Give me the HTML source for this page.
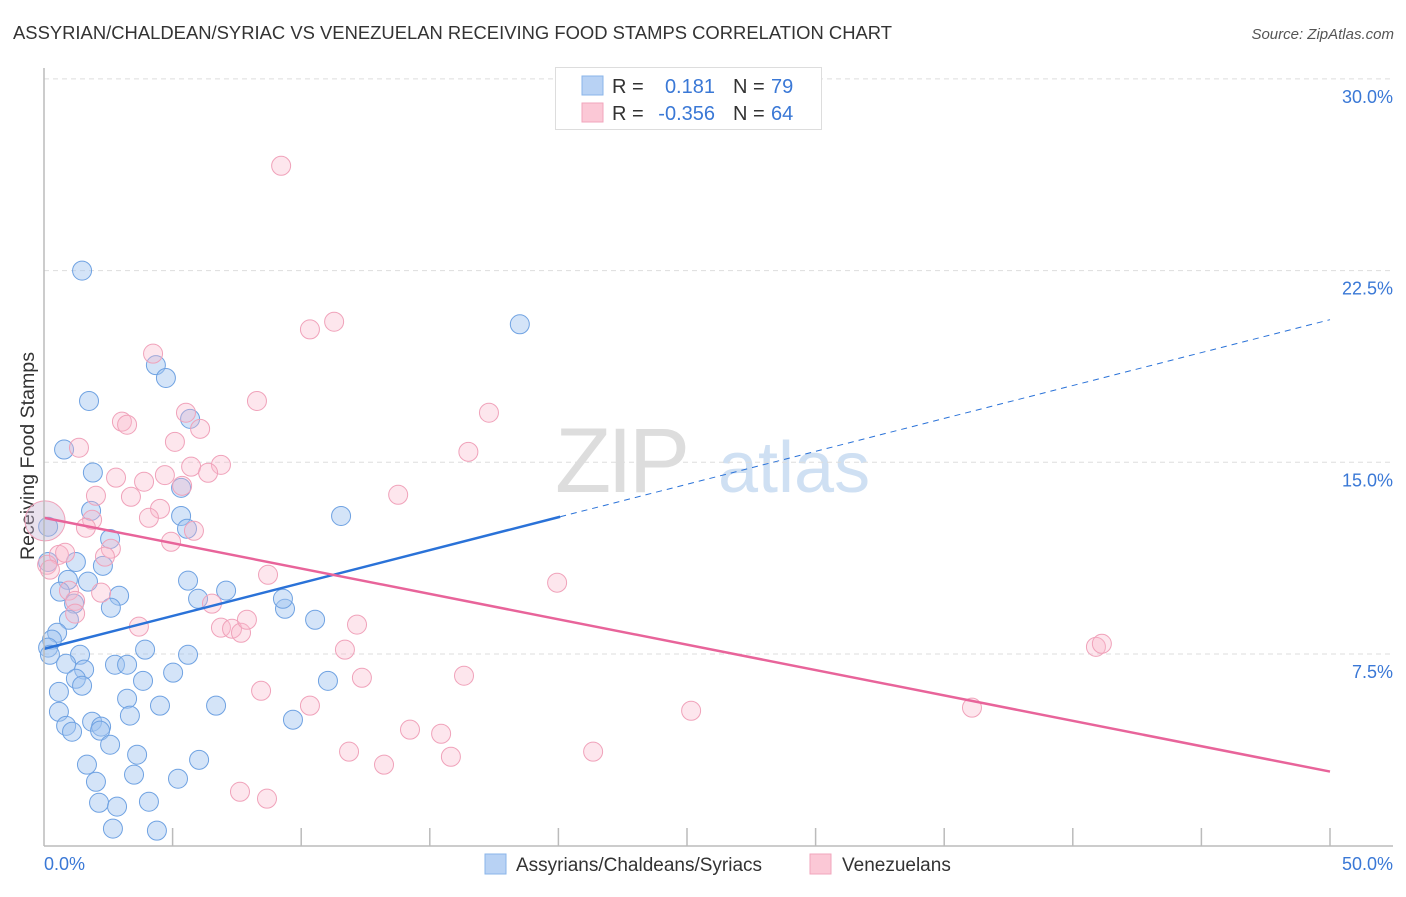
<!DOCTYPE html>
<html><head><meta charset="utf-8"><style>
body{margin:0;background:#fff;font-family:"Liberation Sans",sans-serif;}
svg text{font-family:"Liberation Sans",sans-serif;}
</style></head><body>
<svg id="chart" width="1406" height="892" viewBox="0 0 1406 892">
<text x="13" y="39" font-size="18" fill="#333" textLength="879" lengthAdjust="spacingAndGlyphs">ASSYRIAN/CHALDEAN/SYRIAC VS VENEZUELAN RECEIVING FOOD STAMPS CORRELATION CHART</text>
<text x="1394" y="39" font-size="15" fill="#555" text-anchor="end" font-style="italic">Source: ZipAtlas.com</text>
<text x="0" y="0" font-size="19" fill="#333" text-anchor="middle" textLength="208" lengthAdjust="spacingAndGlyphs" transform="translate(34,456) rotate(-90)">Receiving Food Stamps</text>
<g>
<text x="555" y="492" font-size="92" fill="#ddd" font-family="Liberation Serif" letter-spacing="-4">ZIP</text>
<text x="718" y="492" font-size="72" fill="#cfe0f3">atlas</text>
</g>
<g id="grid"></g><g id="marks"></g><g id="lines"></g>
<line x1="44" y1="68" x2="44" y2="846" stroke="#bbb" stroke-width="1.5"/>
<line x1="44" y1="846" x2="1393" y2="846" stroke="#bbb" stroke-width="1.5"/>
<text x="44" y="870" font-size="18" fill="#3a78d6">0.0%</text>
<text x="1393" y="870" font-size="18" fill="#3a78d6" text-anchor="end">50.0%</text>
<g>
<rect x="555.5" y="67.5" width="266" height="62" fill="#fff" stroke="#ddd"/>
<rect x="582" y="76" width="21" height="19" fill="#b8d2f4" stroke="#8ab4ea"/>
<rect x="582" y="103" width="21" height="19" fill="#fbc8d6" stroke="#f2a6bc"/>
<text x="612" y="93" font-size="20" fill="#333">R =</text>
<text x="715" y="93" font-size="20" fill="#3a78d6" text-anchor="end">0.181</text>
<text x="733" y="93" font-size="20" fill="#333">N =</text>
<text x="771" y="93" font-size="20" fill="#3a78d6">79</text>
<text x="612" y="120" font-size="20" fill="#333">R =</text>
<text x="715" y="120" font-size="20" fill="#3a78d6" text-anchor="end">-0.356</text>
<text x="733" y="120" font-size="20" fill="#333">N =</text>
<text x="771" y="120" font-size="20" fill="#3a78d6">64</text>
</g>
<g>
<rect x="485" y="854" width="21" height="20" fill="#b8d2f4" stroke="#8ab4ea"/>
<text x="516" y="871" font-size="19" fill="#333">Assyrians/Chaldeans/Syriacs</text>
<rect x="810" y="854" width="21" height="20" fill="#fbc8d6" stroke="#f2a6bc"/>
<text x="842" y="871" font-size="19" fill="#333">Venezuelans</text>
</g>
</svg>
<script>
const yTicks=[7.5,15,22.5,30];
const yTickLabels=["7.5%","15.0%","22.5%","30.0%"];
const xTickVals=[5,10,15,20,25,30,35,40,45,50];
const blueX=[1.48,18.5,4.35,4.74,1.75,0.78,5.68,1.9,5.33,5.33,1.83,11.55,5.56,2.57,0.16,1.24,2.29,0.93,5.6,1.71,7.08,0.62,2.92,5.99,1.17,9.37,2.6,9.29,10.54,0.97,0.51,0.31,0.16,0.23,1.4,3.93,5.6,0.86,2.76,3.23,1.56,1.24,5.02,3.85,1.48,0.58,3.23,11.04,4.51,6.69,0.58,3.34,1.87,2.22,0.86,1.09,9.68,2.18,2.57,3.62,1.67,6.03,2.02,5.21,3.5,2.14,4.08,2.84,2.68,4.39,0.16];
const blueY=[22.5,20.4,18.8,18.3,17.4,15.5,16.7,14.6,14.0,12.9,13.1,12.9,12.4,12.0,11.1,11.1,10.95,10.4,10.37,10.33,9.98,9.94,9.78,9.66,9.47,9.27,9.31,9.66,8.84,8.84,8.33,8.06,7.75,7.47,7.47,7.67,7.47,7.12,7.08,7.08,6.89,6.53,6.77,6.45,6.26,6.02,5.75,6.45,5.48,5.48,5.24,5.09,4.85,4.66,4.69,4.46,4.93,4.5,3.95,3.56,3.17,3.36,2.5,2.62,2.78,1.68,1.72,1.53,0.67,0.59,12.48];
const pinkX=[9.22,11.28,10.34,4.24,8.28,17.3,5.52,6.07,3.03,3.23,1.36,5.09,16.5,5.72,6.88,6.38,2.8,4.7,3.89,5.37,2.02,3.38,13.77,4.51,4.08,1.87,1.63,5.83,4.94,2.6,2.37,0.58,0.82,0.12,0.23,19.95,8.71,0.97,2.22,1.21,6.53,3.69,6.88,7.31,7.66,7.89,12.17,1.21,11.7,40.9,41.13,16.33,12.36,8.44,10.34,25.16,36.08,14.23,15.44,11.86,15.82,21.35,13.22,7.62,8.67];
const pinkY=[26.6,20.5,20.2,19.25,17.4,16.94,16.94,16.31,16.59,16.47,15.57,15.8,15.41,14.83,14.9,14.59,14.4,14.5,14.24,14.08,13.69,13.65,13.73,13.18,12.83,12.75,12.44,12.32,11.89,11.62,11.31,11.38,11.46,10.99,10.8,10.29,10.6,9.98,9.9,9.58,9.47,8.57,8.53,8.49,8.33,8.84,8.65,9.08,7.67,7.78,7.9,6.65,6.57,6.06,5.48,5.28,5.4,4.54,4.38,3.68,3.48,3.68,3.17,2.11,1.84];
const bigPinkX=[0.04], bigPinkY=[12.71];
const blueFit=[7.7,20.58], pinkFit=[12.83,2.9], blueSolidEnd=20.07;
const NS="http://www.w3.org/2000/svg";
const sx=v=>44+v*25.72, sy=v=>845.7-v*25.56;
function mk(tag,attrs,parent){const e=document.createElementNS(NS,tag);for(const k in attrs)e.setAttribute(k,attrs[k]);document.getElementById(parent).appendChild(e);return e;}
yTicks.forEach((t,i)=>{
 const l=mk('line',{x1:44,x2:1393,y1:sy(t),y2:sy(t),stroke:'#ddd','stroke-dasharray':'5,4'},'grid');
 
 
 const tx=mk('text',{x:1393,y:sy(t)+24,'font-size':18,fill:'#3a78d6','text-anchor':'end'},'grid');
 tx.textContent=yTickLabels[i];
 
 
});
xTickVals.forEach(t=>{
 const l=mk('line',{x1:sx(t),x2:sx(t),y1:828,y2:846,stroke:'#bbb','stroke-width':1.5},'grid');
 
 
});
function pts(xs,ys,fill,stroke,name,r){xs.forEach((x,i)=>{
 const c=mk('circle',{cx:sx(x),cy:sy(ys[i]),r:r,fill:fill,stroke:stroke,'stroke-width':1},'marks');
 
 
});}
pts(blueX,blueY,'rgba(160,196,240,0.45)','#6fa2e2','assyrian-point',9.5);
pts(pinkX,pinkY,'rgba(248,182,202,0.35)','#f0a2ba','venezuelan-point',9.5);
pts(bigPinkX,bigPinkY,'rgba(200,180,210,0.4)','#f0a2ba','venezuelan-point-large',20);
const fy=(f,x)=>f[0]+(f[1]-f[0])*x/50;
let a=mk('line',{x1:sx(0),y1:sy(fy(blueFit,0)),x2:sx(blueSolidEnd),y2:sy(fy(blueFit,blueSolidEnd)),stroke:'#2a72d8','stroke-width':2.5},'lines');


let b=mk('line',{x1:sx(blueSolidEnd),y1:sy(fy(blueFit,blueSolidEnd)),x2:sx(50),y2:sy(fy(blueFit,50)),stroke:'#2a72d8','stroke-width':1,'stroke-dasharray':'6,5'},'lines');


let c=mk('line',{x1:sx(0),y1:sy(fy(pinkFit,0)),x2:sx(50),y2:sy(fy(pinkFit,50)),stroke:'#e8649a','stroke-width':2.5},'lines');


</script>
</body></html>
